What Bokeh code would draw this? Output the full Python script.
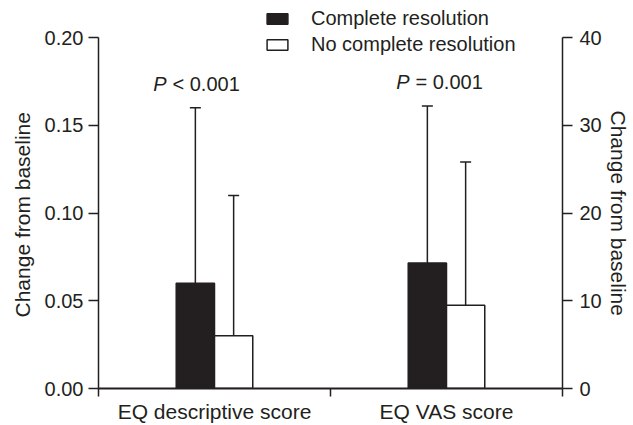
import numpy as np
from bokeh.plotting import figure
from bokeh.models import (Range1d, LinearAxis, FixedTicker, ColumnDataSource,
                          Whisker, TeeHead, NumeralTickFormatter, Legend, LegendItem, Title)
from bokeh.core.properties import value
from bokeh.embed import file_html
from bokeh.resources import INLINE

# ---------------- data ----------------
categories = ["EQ descriptive score", "EQ VAS score"]
series_names = ["Complete resolution", "No complete resolution"]
complete_mean = [0.06, 14.3]
complete_upper = [0.16, 32.2]
nocomplete_mean = [0.03, 9.5]
nocomplete_upper = [0.11, 25.8]
p_rest = ["< 0.001", "= 0.001"]
left_ticks = [0, 0.05, 0.10, 0.15, 0.20]
right_ticks = [0, 10, 20, 30, 40]
y_label = "Change from baseline"

# ---------------- style ----------------
FONT = "Liberation Sans"
INK = "#231f20"
FS = "20px"
BAR_W = 0.165
range_names = ["default", "vas"]
p_x_offsets = [-48, -37]

# frame: axes span 351 px; frame extends 32 px higher so the legend is not clipped
AXIS_PX = 351
HEAD_PX = 32
head = 1 + HEAD_PX / AXIS_PX

p = figure(width=633, height=425, output_backend="svg", toolbar_location=None,
           x_range=Range1d(0, 2), y_range=Range1d(0, left_ticks[-1] * head),
           min_border_left=97, min_border_right=70,
           min_border_top=37 - HEAD_PX, min_border_bottom=37)
p.extra_y_ranges = {"vas": Range1d(0, right_ticks[-1] * head)}
p.outline_line_color = None
p.grid.visible = False
p.background_fill_color = "white"
p.border_fill_color = "white"

centers = np.arange(len(categories)) + 0.5

# x axis
xa = p.xaxis[0]
xa.ticker = FixedTicker(ticks=list(centers), minor_ticks=list(np.arange(len(categories) + 1)))
xa.major_label_overrides = {float(c): n for c, n in zip(centers, categories)}
xa.major_tick_out = 0
xa.major_tick_in = 0
xa.major_tick_line_color = None
xa.minor_tick_out = 8
xa.minor_tick_in = 0
xa.minor_tick_line_width = 1.5
xa.minor_tick_line_color = INK
xa.axis_line_width = 2.2
xa.axis_line_color = INK
xa.major_label_standoff = 3
xa.major_label_text_font = FONT
xa.major_label_text_font_size = "21px"
xa.major_label_text_color = INK


def style_y(ax, ticks, standoff):
    ax.ticker = FixedTicker(ticks=ticks)
    ax.bounds = (ticks[0], ticks[-1])
    ax.minor_tick_line_color = None
    ax.major_tick_out = 10
    ax.major_tick_in = 0
    ax.major_tick_line_width = 1.5
    ax.major_tick_line_color = INK
    ax.axis_line_width = 1.5
    ax.axis_line_color = INK
    ax.major_label_standoff = standoff
    ax.major_label_text_font = FONT
    ax.major_label_text_font_size = FS
    ax.major_label_text_color = INK


ya = p.yaxis[0]
style_y(ya, left_ticks, 5)
ya.formatter = NumeralTickFormatter(format="0.00")

ra = LinearAxis(y_range_name="vas")
style_y(ra, right_ticks, 7)
p.add_layout(ra, "right")

# axis titles, placed along the 351 px axis span (not the taller frame)
for side, offset, so in (("left", 71, 16), ("right", 105, 4)):
    t = Title(text=y_label, align="left", offset=offset, standoff=so,
              text_font=FONT, text_font_size="21px", text_font_style="normal",
              text_color=INK)
    p.add_layout(t, side)

# bars, whiskers, P labels
bar_renderers = []
for i, rn in enumerate(range_names):
    src = ColumnDataSource(dict(
        x=[centers[i] - BAR_W / 2, centers[i] + BAR_W / 2],
        top=[complete_mean[i], nocomplete_mean[i]],
        upper=[complete_upper[i], nocomplete_upper[i]],
        fill=[INK, "white"],
    ))
    r = p.vbar(x="x", top="top", bottom=0, width=BAR_W, source=src, y_range_name=rn,
               fill_color="fill", line_color=INK, line_width=1.5)
    bar_renderers.append(r)
    wk = Whisker(source=src, base="x", lower="top", upper="upper", dimension="height",
                 y_range_name=rn, line_color=INK, line_width=1.5, lower_head=None,
                 upper_head=TeeHead(size=11, line_color=INK, line_width=1.5))
    p.add_layout(wk)

    tsrc = ColumnDataSource(dict(x=[centers[i]], y=[max(complete_upper[i], nocomplete_upper[i])],
                                 p=["P"], rest=[p_rest[i]]))
    p.text(x="x", y="y", text="p", source=tsrc, y_range_name=rn,
           x_offset=p_x_offsets[i], y_offset=-24,
           text_font=value(FONT), text_font_size=FS, text_font_style="italic",
           text_color=INK, text_align="right", text_baseline="alphabetic")
    p.text(x="x", y="y", text="rest", source=tsrc, y_range_name=rn,
           x_offset=p_x_offsets[i] + 6, y_offset=-24,
           text_font=value(FONT), text_font_size=FS,
           text_color=INK, text_align="left", text_baseline="alphabetic")

lg = Legend(items=[LegendItem(label=name, renderers=[bar_renderers[0]], index=k)
                   for k, name in enumerate(series_names)])
lg.location = (166, 332)
lg.padding = 0
lg.margin = 0
lg.border_line_color = None
lg.background_fill_alpha = 0
lg.glyph_width = 26
lg.glyph_height = 13
lg.label_standoff = 21
lg.label_height = 23
lg.spacing = 3
lg.label_text_font = FONT
lg.label_text_font_size = FS
lg.label_text_color = INK
p.add_layout(lg, "center")

open("out.html", "w").write(file_html(p, INLINE))
